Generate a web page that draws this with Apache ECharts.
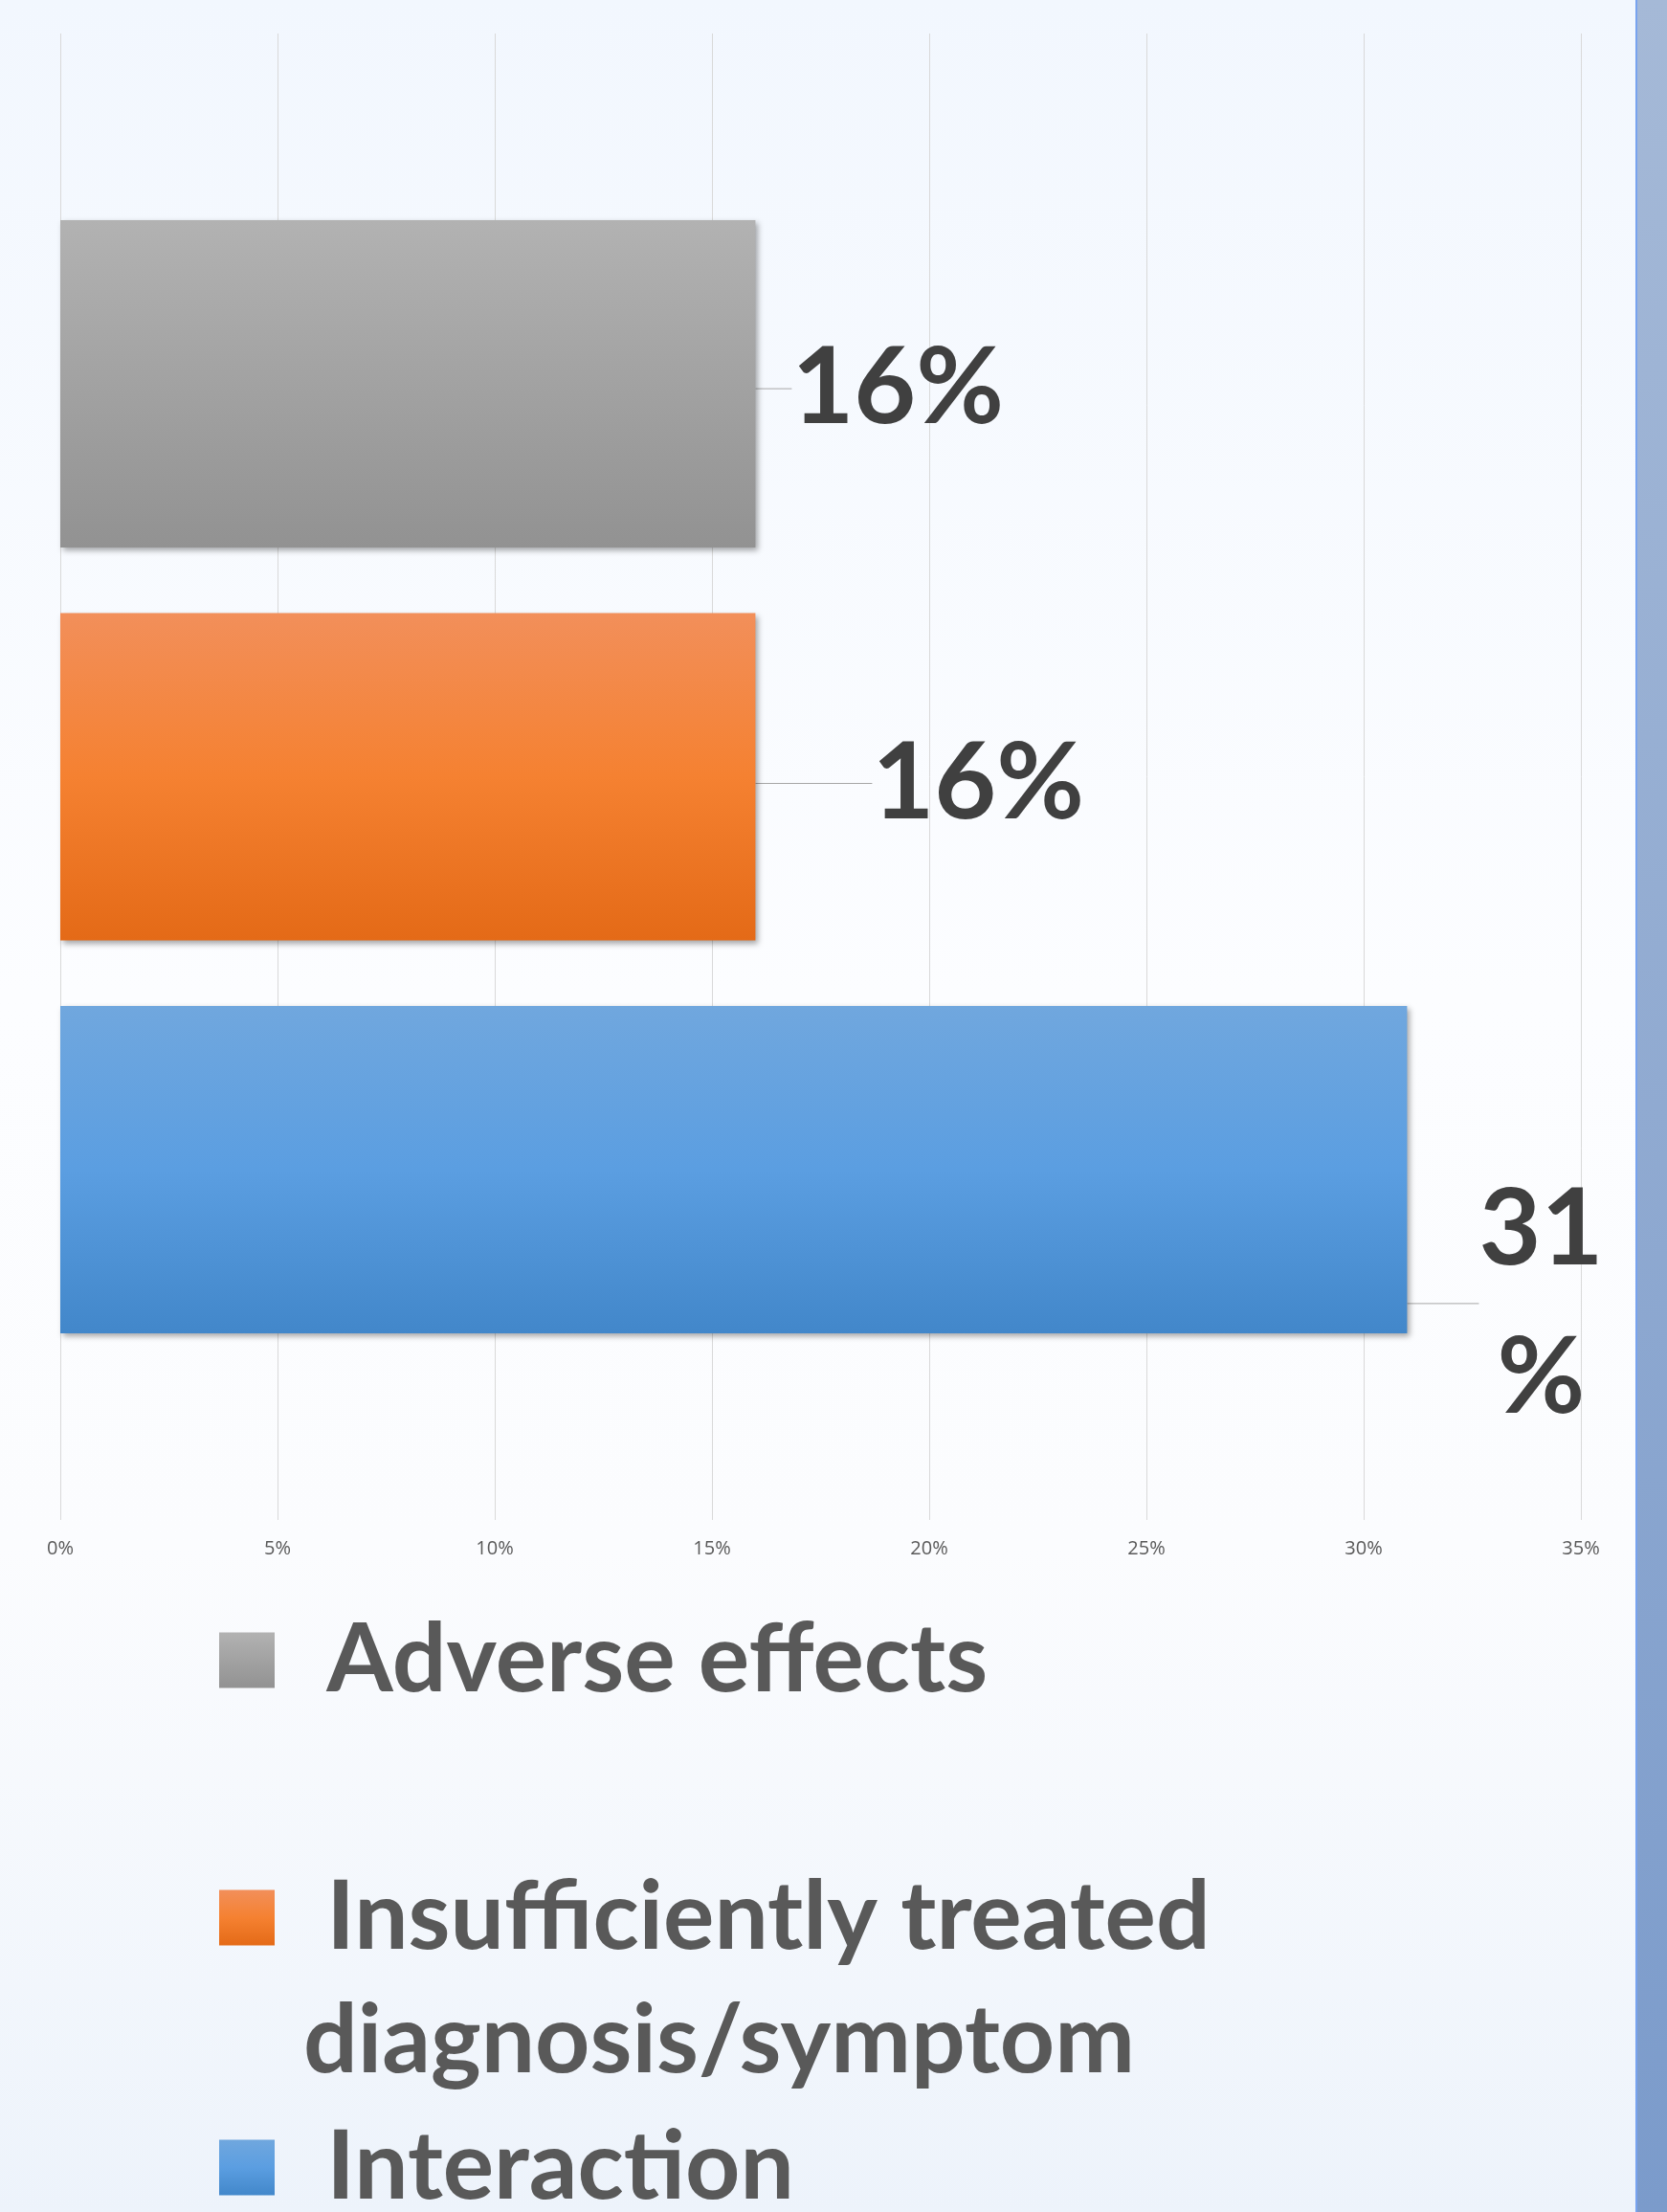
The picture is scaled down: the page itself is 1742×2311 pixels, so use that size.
<!DOCTYPE html>
<html>
<head>
<meta charset="utf-8">
<script src="https://cdn.jsdelivr.net/npm/echarts@6/dist/echarts.min.js"></script>
<style>
  html, body { margin: 0; padding: 0; }
  #chart { width: 1742px; height: 2311px; }
</style>
</head>
<body>
<div id="chart"></div>
<script>
// data (percent)
const seriesNames = ['Adverse effects', 'Insufficiently treated diagnosis/symptom', 'Interaction'];
const seriesValues = [16, 16, 31];
const categories = ['Problem type'];
const axisMin = 0;
const axisMax = 35;
const axisStep = 5;

const barGradients = [
  [[0, '#b2b2b2'], [1, '#929292']],
  [[0, '#f28f5a'], [0.5, '#f58131'], [1, '#e46a17']],
  [[0, '#70a7de'], [0.5, '#5b9ee1'], [1, '#4287ca']]
];

// where each value label sits relative to its bar end
const labelShift = [
  { dx: 33, dy: 5, align: 'left' },
  { dx: 117, dy: 7, align: 'left' },
  { dx: 135, dy: 140, align: 'center' }
];

const chart = echarts.init(document.getElementById('chart'));

const grad = stops => new echarts.graphic.LinearGradient(0, 0, 0, 1,
  stops.map(s => ({ offset: s[0], color: s[1] })));

const series = seriesNames.map((name, i) => ({
  name,
  type: 'bar',
  data: [seriesValues[i]],
  barWidth: 342,
  barGap: '20%',
  itemStyle: {
    color: grad(barGradients[i]),
    shadowColor: 'rgba(0,0,0,0.35)',
    shadowBlur: 6,
    shadowOffsetX: 3,
    shadowOffsetY: 3
  },
  label: {
    show: true,
    position: 'right',
    distance: 5,
    formatter: p => (i === 2 ? p.value + '\n%' : p.value + '%'),
    fontFamily: 'Lato',
    fontWeight: 'bold',
    fontSize: 112,
    lineHeight: 155,
    color: '#404040',
    align: labelShift[i].align
  },
  labelLayout: { dx: labelShift[i].dx, dy: labelShift[i].dy },
  labelLine: { show: true, lineStyle: { color: '#a6a6a6', width: 1 } }
}));

// one legend per entry so each row can sit where it does in the picture
// (the wrapped entry gets an empty first line so its square lines up with the first text line)
const legendTops = [1670, 1810, 2200];
const legends = seriesNames.map((name, i) => ({
  data: [name],
  orient: 'vertical',
  left: 229,
  top: legendTops[i],
  padding: 0,
  selectedMode: false,
  icon: 'rect',
  itemWidth: 58,
  itemHeight: 58,
  formatter: n => (i === 1 ? '\n ' : ' ') + n,
  textStyle: {
    fontFamily: 'Lato',
    fontWeight: 'bold',
    fontSize: 100,
    lineHeight: 129,
    color: '#595959',
    width: 1000,
    overflow: 'break',
    padding: [0, 0, 0, 25]
  }
}));

const option = {
  backgroundColor: new echarts.graphic.LinearGradient(0, 0, 0, 1, [
    { offset: 0, color: '#f2f7fe' },
    { offset: 0.45, color: '#fcfdff' },
    { offset: 0.7, color: '#fbfcfe' },
    { offset: 1, color: '#edf3fb' }
  ]),
  animation: false,
  graphic: [
    {
      type: 'rect',
      right: 0,
      top: 0,
      shape: { width: 31, height: 2311 },
      style: {
        fill: new echarts.graphic.LinearGradient(0, 0, 0, 1, [
          { offset: 0, color: '#a5b9d7' },
          { offset: 1, color: '#7b9bcb' }
        ])
      }
    },
    {
      type: 'rect',
      right: 31,
      top: 0,
      shape: { width: 2, height: 2311 },
      style: { fill: '#78a3ef' }
    }
  ],
  legend: legends,
  grid: { left: 63, right: 90, top: 35, bottom: 723 },
  xAxis: {
    type: 'value',
    min: axisMin,
    max: axisMax,
    interval: axisStep,
    axisLine: { show: false },
    axisTick: { show: false },
    splitLine: { lineStyle: { color: '#d9d9d9', width: 1 } },
    axisLabel: {
      formatter: '{value}%',
      margin: 20,
      fontFamily: 'Open Sans',
      fontSize: 20,
      color: '#595959'
    }
  },
  yAxis: {
    type: 'category',
    data: categories,
    inverse: true,
    axisLine: { show: false },
    axisTick: { show: false },
    axisLabel: { show: false }
  },
  series
};

chart.setOption(option);
</script>
</body>
</html>
